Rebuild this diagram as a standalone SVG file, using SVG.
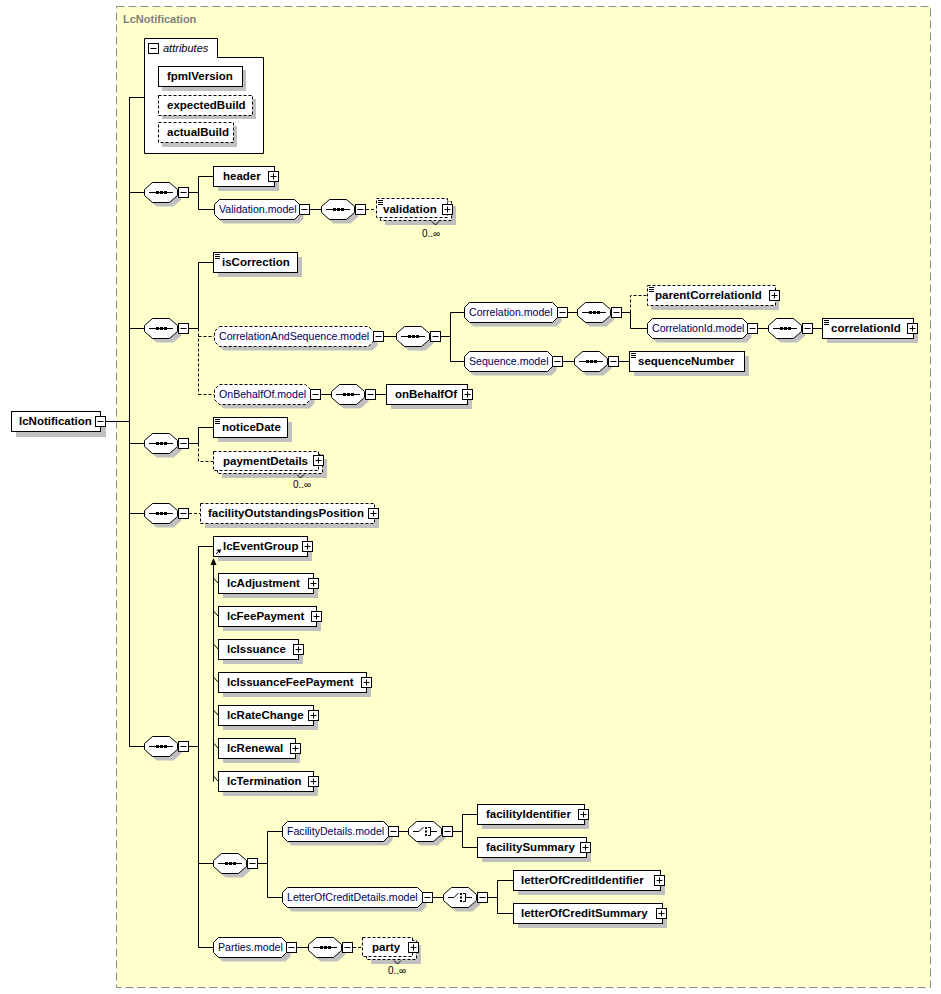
<svg xmlns="http://www.w3.org/2000/svg" xmlns:xlink="http://www.w3.org/1999/xlink" width="941" height="994" viewBox="0 0 941 994">
<style>
.el{fill:#fff;stroke:#000;stroke-width:1}
.opt{fill:#fff;stroke:#000;stroke-width:1;stroke-dasharray:3,2}
.shd{fill:#c0c0c0;stroke:none}
.ln{stroke:#000;stroke-width:1;fill:none}
.dl{stroke:#000;stroke-width:1;fill:none;stroke-dasharray:3,2}
.t{font-family:"Liberation Sans",Arial,sans-serif;font-size:11.5px;font-weight:bold;fill:#000}
.m{font-family:"Liberation Sans",Arial,sans-serif;font-size:10.6px;fill:#000058}
.c{font-family:"Liberation Sans",Arial,sans-serif;font-size:10px;fill:#000}
.ti{font-family:"Liberation Sans",Arial,sans-serif;font-size:11px;font-weight:bold;fill:#808080}
.at{font-family:"Liberation Sans",Arial,sans-serif;font-size:11px;font-style:italic;fill:#000}
</style>
<defs>
<g id="minus"><rect x="0.5" y="0.5" width="10" height="10" fill="#fff" stroke="#000"/><path d="M2.5 5.5H8.5" stroke="#000"/></g>
<g id="plus"><rect x="0.5" y="0.5" width="10" height="10" fill="#fff" stroke="#000"/><path d="M2.5 5.5H8.5M5.5 2.5V8.5" stroke="#000"/></g>
<path id="simp" d="M2 2.5H7M2 4.5H7M2 6.5H7" stroke="#000" fill="none"/>
<g id="seq">
<polygon class="shd" transform="translate(4,4)" points="8.5,0.5 25.5,0.5 33.5,7.5 33.5,13.5 25.5,20.5 8.5,20.5 0.5,13.5 0.5,7.5"/>
<polygon class="el" points="8.5,0.5 25.5,0.5 33.5,7.5 33.5,13.5 25.5,20.5 8.5,20.5 0.5,13.5 0.5,7.5"/>
<path d="M5 10.5H29" stroke="#000"/>
<rect x="12" y="9" width="3" height="3" fill="#000"/><rect x="16" y="9" width="3" height="3" fill="#000"/><rect x="20" y="9" width="3" height="3" fill="#000"/>
</g>
<g id="choice">
<polygon class="shd" transform="translate(4,4)" points="8.5,0.5 25.5,0.5 33.5,7.5 33.5,13.5 25.5,20.5 8.5,20.5 0.5,13.5 0.5,7.5"/>
<polygon class="el" points="8.5,0.5 25.5,0.5 33.5,7.5 33.5,13.5 25.5,20.5 8.5,20.5 0.5,13.5 0.5,7.5"/>
<path d="M5 10.5H11L15.5 6" stroke="#000" fill="none"/>
<rect x="17" y="6" width="2" height="2" fill="#000"/><rect x="17" y="9.5" width="2" height="2" fill="#000"/><rect x="17" y="13" width="2" height="2" fill="#000"/>
<path d="M20 6.5H22.5V14.5H20M22.5 10.5H29" stroke="#000" fill="none"/>
</g>
</defs>
<rect x="0" y="0" width="941" height="994" fill="#fff"/>
<g id="LcNotification-type">
<rect x="116.5" y="6.5" width="814" height="981" fill="#ffffcc" stroke="#8c8c8c" stroke-dasharray="8,4"/>
<text class="ti" x="123" y="23">LcNotification</text>
</g>

<g id="connectors">
<path class="ln" d="M106 421.5H129.5M129.5 97V747M129.5 97.5H144M129.5 192.5H144M129.5 328.5H144M129.5 443.5H144M129.5 513.5H144M129.5 746.5H144"/>
<path class="ln" d="M189 192.5H198.5M198.5 176.5V209.5M198.5 176.5H213M198.5 209.5H214M310 209.5H321"/>
<path class="dl" d="M366 209.5H376"/>
<path class="ln" d="M189 328.5H198.5M198.5 262.5V328.5M198.5 262.5H213"/>
<path class="dl" d="M198.5 328.5V394.5M198.5 336.5H214M198.5 394.5H214"/>
<path class="ln" d="M384 336.5H396M441 336.5H450.5M450.5 312.5V361.5M450.5 312.5H464M450.5 361.5H464"/>
<path class="ln" d="M568 312.5H577M622 312.5H630.5M630.5 312.5V328.5H647"/>
<path class="dl" d="M630.5 312.5V295.5H647"/>
<path class="ln" d="M758 328.5H768M813 328.5H822M563 361.5H574M619 361.5H629M321 394.5H331M376 394.5H386"/>
<path class="ln" d="M189 443.5H198.5M198.5 427.5V443.5M198.5 427.5H213"/>
<path class="dl" d="M198.5 443.5V461.5H213M189 513.5H200"/>
<path class="ln" d="M189 746.5H198.5M198.5 546.5V947.5M198.5 546.5H213M198.5 863.5H213M198.5 947.5H213"/>
<path class="ln" d="M213.5 563V781.5M213.5 578L218 583M213.5 611L218 616M213.5 644L218 649M213.5 677L218 682M213.5 710L218 715M213.5 743L218 748M213.5 776L218 781"/>
<polygon points="213.5,558 210.5,565 216.5,565" fill="#000"/>
<path class="ln" d="M258 863.5H267.5M267.5 831.5V897.5M267.5 831.5H282M267.5 897.5H282"/>
<path class="ln" d="M398 831.5H408M452 831.5H462.5M462.5 814.5V847.5M462.5 814.5H477M462.5 847.5H477"/>
<path class="ln" d="M433 897.5H443M488 897.5H497.5M497.5 880.5V913.5M497.5 880.5H513M497.5 913.5H513"/>
<path class="ln" d="M297 947.5H308"/>
<path class="dl" d="M353 947.5H362"/>
</g>

<g id="lcNotification">
<rect class="shd" x="16" y="416" width="90" height="21"/>
<rect class="el" x="11.5" y="411.5" width="89" height="20"/>
<text class="t" x="19" y="425">lcNotification</text>
<use href="#minus" x="95" y="416"/>
</g>

<g id="attributes">
<polygon class="el" points="144.5,38.5 217.5,38.5 217.5,57.5 263.5,57.5 263.5,153.5 144.5,153.5"/>
<use href="#minus" x="148" y="43"/>
<text class="at" x="163" y="52">attributes</text>
<rect class="shd" x="162" y="70" width="84" height="21"/>
<rect class="el" x="158.5" y="66.5" width="84" height="20"/>
<text class="t" x="167" y="80">fpmlVersion</text>
<rect class="shd" x="162" y="99" width="94" height="20"/>
<rect class="opt" x="158.5" y="95.5" width="94" height="20"/>
<text class="t" x="167" y="109">expectedBuild</text>
<rect class="shd" x="162" y="126" width="75" height="21"/>
<rect class="opt" x="158.5" y="122.5" width="75" height="20"/>
<text class="t" x="167" y="136">actualBuild</text>
</g>

<g id="seq1"><use href="#seq" x="144" y="182"/><use href="#minus" x="178" y="187"/></g>
<g id="header">
<rect class="shd" x="218" y="171" width="61" height="20"/>
<rect class="el" x="213.5" y="166.5" width="61" height="20"/>
<text class="t" x="223" y="180">header</text>
<use href="#plus" x="268" y="171"/>
</g>
<g id="Validation.model">
<polygon class="shd" transform="translate(4,4)" points="219.5,199.5 294.5,199.5 299.5,204.5 299.5,214.5 294.5,219.5 219.5,219.5 214.5,214.5 214.5,204.5"/>
<polygon class="el" points="219.5,199.5 294.5,199.5 299.5,204.5 299.5,214.5 294.5,219.5 219.5,219.5 214.5,214.5 214.5,204.5"/>
<text class="m" x="219" y="213">Validation.model</text>
<use href="#minus" x="299" y="204"/>
</g>
<g id="seqV"><use href="#seq" x="321" y="199"/><use href="#minus" x="355" y="204"/></g>
<g id="validation">
<rect class="shd" x="385" y="206" width="71" height="19"/>
<rect class="opt" x="380.5" y="201.5" width="71" height="19"/>
<rect class="opt" x="376.5" y="198.5" width="71" height="19"/>
<use href="#simp" x="376" y="198"/>
<text class="t" x="383" y="213">validation</text>
<use href="#plus" x="442" y="204"/>
<path class="ln" d="M432 221.5L435.5 225L439 221.5"/>
<text class="c" x="422" y="237">0..∞</text>
</g>

<g id="seq2"><use href="#seq" x="144" y="318"/><use href="#minus" x="178" y="323"/></g>
<g id="isCorrection">
<rect class="shd" x="218" y="257" width="84" height="20"/>
<rect class="el" x="213.5" y="252.5" width="84" height="20"/>
<use href="#simp" x="213" y="252"/>
<text class="t" x="222" y="266">isCorrection</text>
</g>
<g id="CorrelationAndSequence.model">
<polygon class="shd" transform="translate(4,4)" points="219.5,326.5 368.5,326.5 373.5,331.5 373.5,341.5 368.5,346.5 219.5,346.5 214.5,341.5 214.5,331.5"/>
<polygon class="opt" points="219.5,326.5 368.5,326.5 373.5,331.5 373.5,341.5 368.5,346.5 219.5,346.5 214.5,341.5 214.5,331.5"/>
<text class="m" x="219" y="340">CorrelationAndSequence.model</text>
<use href="#minus" x="373" y="331"/>
</g>
<g id="seqCS"><use href="#seq" x="396" y="326"/><use href="#minus" x="430" y="331"/></g>
<g id="Correlation.model">
<polygon class="shd" transform="translate(4,4)" points="469.5,302.5 552.5,302.5 557.5,307.5 557.5,317.5 552.5,322.5 469.5,322.5 464.5,317.5 464.5,307.5"/>
<polygon class="el" points="469.5,302.5 552.5,302.5 557.5,307.5 557.5,317.5 552.5,322.5 469.5,322.5 464.5,317.5 464.5,307.5"/>
<text class="m" x="469" y="316">Correlation.model</text>
<use href="#minus" x="557" y="307"/>
</g>
<g id="seqC"><use href="#seq" x="577" y="302"/><use href="#minus" x="611" y="307"/></g>
<g id="parentCorrelationId">
<rect class="shd" x="651" y="290" width="128" height="20"/>
<rect class="opt" x="647.5" y="285.5" width="128" height="20"/>
<use href="#simp" x="647" y="285"/>
<text class="t" x="655" y="299">parentCorrelationId</text>
<use href="#plus" x="769" y="290"/>
</g>
<g id="CorrelationId.model">
<polygon class="shd" transform="translate(4,4)" points="652.5,318.5 742.5,318.5 747.5,323.5 747.5,333.5 742.5,338.5 652.5,338.5 647.5,333.5 647.5,323.5"/>
<polygon class="el" points="652.5,318.5 742.5,318.5 747.5,323.5 747.5,333.5 742.5,338.5 652.5,338.5 647.5,333.5 647.5,323.5"/>
<text class="m" x="652" y="332">CorrelationId.model</text>
<use href="#minus" x="747" y="323"/>
</g>
<g id="seqCI"><use href="#seq" x="768" y="318"/><use href="#minus" x="802" y="323"/></g>
<g id="correlationId">
<rect class="shd" x="827" y="323" width="91" height="20"/>
<rect class="el" x="822.5" y="318.5" width="91" height="20"/>
<use href="#simp" x="822" y="318"/>
<text class="t" x="831" y="332">correlationId</text>
<use href="#plus" x="907" y="323"/>
</g>
<g id="Sequence.model">
<polygon class="shd" transform="translate(4,4)" points="469.5,351.5 547.5,351.5 552.5,356.5 552.5,366.5 547.5,371.5 469.5,371.5 464.5,366.5 464.5,356.5"/>
<polygon class="el" points="469.5,351.5 547.5,351.5 552.5,356.5 552.5,366.5 547.5,371.5 469.5,371.5 464.5,366.5 464.5,356.5"/>
<text class="m" x="469" y="365">Sequence.model</text>
<use href="#minus" x="552" y="356"/>
</g>
<g id="seqSQ"><use href="#seq" x="574" y="351"/><use href="#minus" x="608" y="356"/></g>
<g id="sequenceNumber">
<rect class="shd" x="634" y="356" width="115" height="20"/>
<rect class="el" x="629.5" y="351.5" width="115" height="20"/>
<use href="#simp" x="629" y="351"/>
<text class="t" x="638" y="365">sequenceNumber</text>
</g>
<g id="OnBehalfOf.model">
<polygon class="shd" transform="translate(4,4)" points="219.5,384.5 305.5,384.5 310.5,389.5 310.5,399.5 305.5,404.5 219.5,404.5 214.5,399.5 214.5,389.5"/>
<polygon class="opt" points="219.5,384.5 305.5,384.5 310.5,389.5 310.5,399.5 305.5,404.5 219.5,404.5 214.5,399.5 214.5,389.5"/>
<text class="m" x="219" y="398">OnBehalfOf.model</text>
<use href="#minus" x="310" y="389"/>
</g>
<g id="seqOB"><use href="#seq" x="331" y="384"/><use href="#minus" x="365" y="389"/></g>
<g id="onBehalfOf">
<rect class="shd" x="391" y="389" width="81" height="20"/>
<rect class="el" x="386.5" y="384.5" width="81" height="20"/>
<text class="t" x="395" y="398">onBehalfOf</text>
<use href="#plus" x="462" y="389"/>
</g>

<g id="seq3"><use href="#seq" x="144" y="433"/><use href="#minus" x="178" y="438"/></g>
<g id="noticeDate">
<rect class="shd" x="218" y="422" width="74" height="20"/>
<rect class="el" x="213.5" y="417.5" width="74" height="20"/>
<use href="#simp" x="213" y="417"/>
<text class="t" x="222" y="431">noticeDate</text>
</g>
<g id="paymentDetails">
<rect class="shd" x="222" y="459" width="105" height="19"/>
<rect class="opt" x="217.5" y="454.5" width="105" height="19"/>
<rect class="opt" x="213.5" y="451.5" width="105" height="19"/>
<text class="t" x="223" y="465">paymentDetails</text>
<use href="#plus" x="313" y="455"/>
<path class="ln" d="M297 474.5L300.5 478L304 474.5"/>
<text class="c" x="293" y="488">0..∞</text>
</g>

<g id="seq4"><use href="#seq" x="144" y="503"/><use href="#minus" x="178" y="508"/></g>
<g id="facilityOutstandingsPosition">
<rect class="shd" x="205" y="508" width="174" height="20"/>
<rect class="opt" x="200.5" y="503.5" width="174" height="20"/>
<text class="t" x="208" y="517">facilityOutstandingsPosition</text>
<use href="#plus" x="368" y="508"/>
</g>

<g id="seq5"><use href="#seq" x="144" y="736"/><use href="#minus" x="178" y="741"/></g>
<g id="lcEventGroup">
<rect class="shd" x="218" y="541" width="94" height="20"/>
<rect class="el" x="213.5" y="536.5" width="94" height="20"/>
<path class="ln" d="M216 554L220 550"/>
<polygon points="221,549 216.5,550 220,553.5" fill="#000"/>
<text class="t" x="223" y="550">lcEventGroup</text>
<use href="#plus" x="302" y="541"/>
</g>
<g id="lcAdjustment">
<rect class="shd" x="223" y="578" width="95" height="20"/>
<rect class="el" x="218.5" y="573.5" width="95" height="20"/>
<text class="t" x="227" y="587">lcAdjustment</text>
<use href="#plus" x="308" y="578"/>
</g>
<g id="lcFeePayment">
<rect class="shd" x="223" y="611" width="98" height="20"/>
<rect class="el" x="218.5" y="606.5" width="98" height="20"/>
<text class="t" x="227" y="620">lcFeePayment</text>
<use href="#plus" x="311" y="611"/>
</g>
<g id="lcIssuance">
<rect class="shd" x="223" y="644" width="80" height="20"/>
<rect class="el" x="218.5" y="639.5" width="80" height="20"/>
<text class="t" x="227" y="653">lcIssuance</text>
<use href="#plus" x="293" y="644"/>
</g>
<g id="lcIssuanceFeePayment">
<rect class="shd" x="223" y="677" width="148" height="20"/>
<rect class="el" x="218.5" y="672.5" width="148" height="20"/>
<text class="t" x="227" y="686">lcIssuanceFeePayment</text>
<use href="#plus" x="361" y="677"/>
</g>
<g id="lcRateChange">
<rect class="shd" x="223" y="710" width="95" height="20"/>
<rect class="el" x="218.5" y="705.5" width="95" height="20"/>
<text class="t" x="227" y="719">lcRateChange</text>
<use href="#plus" x="308" y="710"/>
</g>
<g id="lcRenewal">
<rect class="shd" x="223" y="743" width="77" height="20"/>
<rect class="el" x="218.5" y="738.5" width="77" height="20"/>
<text class="t" x="227" y="752">lcRenewal</text>
<use href="#plus" x="290" y="743"/>
</g>
<g id="lcTermination">
<rect class="shd" x="223" y="776" width="95" height="20"/>
<rect class="el" x="218.5" y="771.5" width="95" height="20"/>
<text class="t" x="227" y="785">lcTermination</text>
<use href="#plus" x="308" y="776"/>
</g>

<g id="seq6"><use href="#seq" x="213" y="853"/><use href="#minus" x="247" y="858"/></g>
<g id="FacilityDetails.model">
<polygon class="shd" transform="translate(4,4)" points="287.5,821.5 383.5,821.5 388.5,826.5 388.5,836.5 383.5,841.5 287.5,841.5 282.5,836.5 282.5,826.5"/>
<polygon class="el" points="287.5,821.5 383.5,821.5 388.5,826.5 388.5,836.5 383.5,841.5 287.5,841.5 282.5,836.5 282.5,826.5"/>
<text class="m" x="287" y="835">FacilityDetails.model</text>
<use href="#minus" x="388" y="826"/>
</g>
<g id="choice1"><use href="#choice" x="408" y="821"/><use href="#minus" x="442" y="826"/></g>
<g id="facilityIdentifier">
<rect class="shd" x="482" y="809" width="107" height="20"/>
<rect class="el" x="477.5" y="804.5" width="107" height="20"/>
<text class="t" x="486" y="818">facilityIdentifier</text>
<use href="#plus" x="578" y="809"/>
</g>
<g id="facilitySummary">
<rect class="shd" x="482" y="842" width="109" height="20"/>
<rect class="el" x="477.5" y="837.5" width="109" height="20"/>
<text class="t" x="486" y="851">facilitySummary</text>
<use href="#plus" x="580" y="842"/>
</g>
<g id="LetterOfCreditDetails.model">
<polygon class="shd" transform="translate(4,4)" points="287.5,887.5 417.5,887.5 422.5,892.5 422.5,902.5 417.5,907.5 287.5,907.5 282.5,902.5 282.5,892.5"/>
<polygon class="el" points="287.5,887.5 417.5,887.5 422.5,892.5 422.5,902.5 417.5,907.5 287.5,907.5 282.5,902.5 282.5,892.5"/>
<text class="m" x="287" y="901">LetterOfCreditDetails.model</text>
<use href="#minus" x="422" y="892"/>
</g>
<g id="choice2"><use href="#choice" x="443" y="887"/><use href="#minus" x="477" y="892"/></g>
<g id="letterOfCreditIdentifier">
<rect class="shd" x="518" y="875" width="147" height="20"/>
<rect class="el" x="513.5" y="870.5" width="147" height="20"/>
<text class="t" x="521" y="884">letterOfCreditIdentifier</text>
<use href="#plus" x="654" y="875"/>
</g>
<g id="letterOfCreditSummary">
<rect class="shd" x="518" y="908" width="149" height="20"/>
<rect class="el" x="513.5" y="903.5" width="149" height="20"/>
<text class="t" x="521" y="917">letterOfCreditSummary</text>
<use href="#plus" x="656" y="908"/>
</g>
<g id="Parties.model">
<polygon class="shd" transform="translate(4,4)" points="218.5,937.5 281.5,937.5 286.5,942.5 286.5,952.5 281.5,957.5 218.5,957.5 213.5,952.5 213.5,942.5"/>
<polygon class="el" points="218.5,937.5 281.5,937.5 286.5,942.5 286.5,952.5 281.5,957.5 218.5,957.5 213.5,952.5 213.5,942.5"/>
<text class="m" x="218" y="951">Parties.model</text>
<use href="#minus" x="286" y="942"/>
</g>
<g id="seqP"><use href="#seq" x="308" y="937"/><use href="#minus" x="342" y="942"/></g>
<g id="party">
<rect class="shd" x="371" y="945" width="50" height="19"/>
<rect class="opt" x="366.5" y="940.5" width="50" height="19"/>
<rect class="opt" x="362.5" y="937.5" width="50" height="19"/>
<text class="t" x="372" y="951">party</text>
<use href="#plus" x="408" y="942"/>
<path class="ln" d="M394 960.5L397.5 964L401 960.5"/>
<text class="c" x="388" y="974">0..∞</text>
</g>
</svg>
